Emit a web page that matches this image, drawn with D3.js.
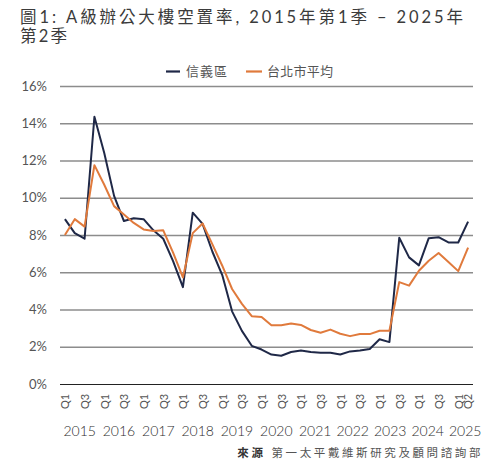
<!DOCTYPE html>
<html><head><meta charset="utf-8">
<script src="https://cdn.jsdelivr.net/npm/d3@7"></script>
<style>
html,body{margin:0;padding:0;background:#fff;}
svg{display:block;font-family:"Lato","Noto Sans CJK TC",sans-serif;}
</style></head><body>
<svg id="c" width="500" height="474"></svg>
<script>
const categories = [
  "2015 Q1","2015 Q2","2015 Q3","2015 Q4",
  "2016 Q1","2016 Q2","2016 Q3","2016 Q4",
  "2017 Q1","2017 Q2","2017 Q3","2017 Q4",
  "2018 Q1","2018 Q2","2018 Q3","2018 Q4",
  "2019 Q1","2019 Q2","2019 Q3","2019 Q4",
  "2020 Q1","2020 Q2","2020 Q3","2020 Q4",
  "2021 Q1","2021 Q2","2021 Q3","2021 Q4",
  "2022 Q1","2022 Q2","2022 Q3","2022 Q4",
  "2023 Q1","2023 Q2","2023 Q3","2023 Q4",
  "2024 Q1","2024 Q2","2024 Q3","2024 Q4",
  "2025 Q1","2025 Q2"
];
const xinyi = [
  8.85, 8.1, 7.8, 14.35,
  12.4, 10.1, 8.75, 8.9,
  8.85, 8.25, 7.8, 6.6,
  5.2, 9.2, 8.6, 7.1,
  5.85, 3.9, 2.85, 2.05,
  1.85, 1.58, 1.52, 1.72,
  1.8, 1.72, 1.68, 1.68,
  1.58, 1.75, 1.8, 1.88,
  2.4, 2.25, 7.85, 6.8,
  6.37, 7.83, 7.88, 7.6,
  7.6, 8.72
];
const taipeiAvg = [
  8.0, 8.85, 8.45, 11.75,
  10.7, 9.55, 9.1, 8.65,
  8.3, 8.22, 8.25, 7.05,
  5.72, 8.1, 8.62, 7.5,
  6.35, 5.1, 4.3, 3.64,
  3.6, 3.15, 3.15, 3.25,
  3.17, 2.9, 2.75, 2.92,
  2.7, 2.57, 2.68, 2.68,
  2.86, 2.86, 5.47, 5.28,
  6.08, 6.62, 7.03, 6.55,
  6.06, 7.32
];
const yearLabels = ["2015","2016","2017","2018","2019","2020","2021","2022","2023","2024","2025"];
const quarterTickLabels = ["Q1","Q3"];
const yTickValues = [0,2,4,6,8,10,12,14,16];
const seriesNames = ["信義區","台北市平均"];
const seriesColors = ["#1f2847","#e07a3c"];
const titleLines = ["圖1: A級辦公大樓空置率, 2015年第1季 – 2025年","第2季"];
const sourceLabel = "來源";
const sourceText = "第一太平戴維斯研究及顧問諮詢部";

const svg = d3.select("#c");
const L = 60, R = 473, T = 86, B = 384;
const x = d3.scalePoint().domain(categories).range([L, R]).padding(0.5);
const y = d3.scaleLinear().domain([0, 16]).range([B, T]);

// Title
svg.append("text").attr("x", 20).attr("y", 23)
  .attr("font-size", 16.5).attr("fill", "#3b3b3b")
  .attr("textLength", 443).attr("lengthAdjust", "spacing")
  .text(titleLines[0]);
svg.append("text").attr("x", 20).attr("y", 42)
  .attr("font-size", 16.5).attr("fill", "#3b3b3b")
  .attr("textLength", 47).attr("lengthAdjust", "spacing")
  .text(titleLines[1]);

// Legend
const legendItems = [
  {name: seriesNames[0], color: seriesColors[0], x1: 166, x2: 180, tx: 186, tl: 41},
  {name: seriesNames[1], color: seriesColors[1], x1: 246, x2: 262, tx: 267, tl: 66}
];
legendItems.forEach(it => {
  svg.append("line").attr("x1", it.x1).attr("x2", it.x2).attr("y1", 71.5).attr("y2", 71.5)
    .attr("stroke", it.color).attr("stroke-width", 2.2);
  svg.append("text").attr("x", it.tx).attr("y", 76).attr("font-size", 13)
    .attr("fill", "#555").attr("textLength", it.tl).attr("lengthAdjust", "spacing").text(it.name);
});

// Y axis with gridlines
const yAxis = svg.append("g").attr("transform", `translate(${L},0)`)
  .call(d3.axisLeft(y).tickValues(yTickValues).tickFormat(d => d + "%")
    .tickSize(-(R - L)).tickPadding(13));
yAxis.select(".domain").remove();
yAxis.selectAll(".tick line")
  .attr("stroke", d => d === 0 ? "#222" : "#8c8c8c")
  .attr("stroke-width", d => d === 0 ? 1 : 1.3);
yAxis.selectAll(".tick text").attr("font-size", 13).attr("fill", "#555")
  .attr("font-family", "Lato, sans-serif");

// X quarter labels
const lastCat = categories[categories.length - 1];
const qTicks = categories.filter(c => quarterTickLabels.includes(c.split(" ")[1]) || c === lastCat);
svg.append("g").selectAll("text").data(qTicks).join("text")
  .attr("transform", d => `translate(${x(d) + 0.5},409) rotate(-90)`)
  .attr("dy", "0.35em").attr("font-size", 11).attr("fill", "#555")
  .text(d => d.split(" ")[1]);

// Year labels (centred on their quarter groups, nudged left to avoid overlap at the right edge)
const yearCenters = yearLabels.map(yr => {
  const cs = categories.filter(c => c.startsWith(yr));
  return (x(cs[0]) + x(cs[cs.length - 1])) / 2;
});
const yearPos = yearCenters.slice();
yearPos[yearPos.length - 1] = Math.min(yearPos[yearPos.length - 1] + 2, 466);
for (let i = yearPos.length - 2; i >= 0; i--) {
  yearPos[i] = Math.min(yearPos[i], yearPos[i + 1] - 37.5);
}
svg.append("g").selectAll("text").data(yearLabels).join("text")
  .attr("x", (d, i) => yearPos[i]).attr("y", 436)
  .attr("text-anchor", "middle").attr("font-size", 14).attr("font-weight", 300)
  .attr("fill", "#2e2e2e").text(d => d);

// Lines
const line = d3.line().x((d, i) => x(categories[i])).y(d => y(d));
[xinyi, taipeiAvg].forEach((s, k) => {
  svg.append("path").datum(s).attr("d", line).attr("fill", "none")
    .attr("stroke", seriesColors[k]).attr("stroke-width", 2)
    .attr("stroke-linejoin", "round");
});

// Source
const src = svg.append("text").attr("x", 483).attr("y", 457).attr("text-anchor", "end")
  .attr("font-size", 11.5).attr("letter-spacing", 2.6);
src.append("tspan").attr("fill", "#333").attr("font-weight", "bold").text(sourceLabel);
src.append("tspan").attr("fill", "#555").attr("dx", 6).text(sourceText);
</script>
</body></html>
